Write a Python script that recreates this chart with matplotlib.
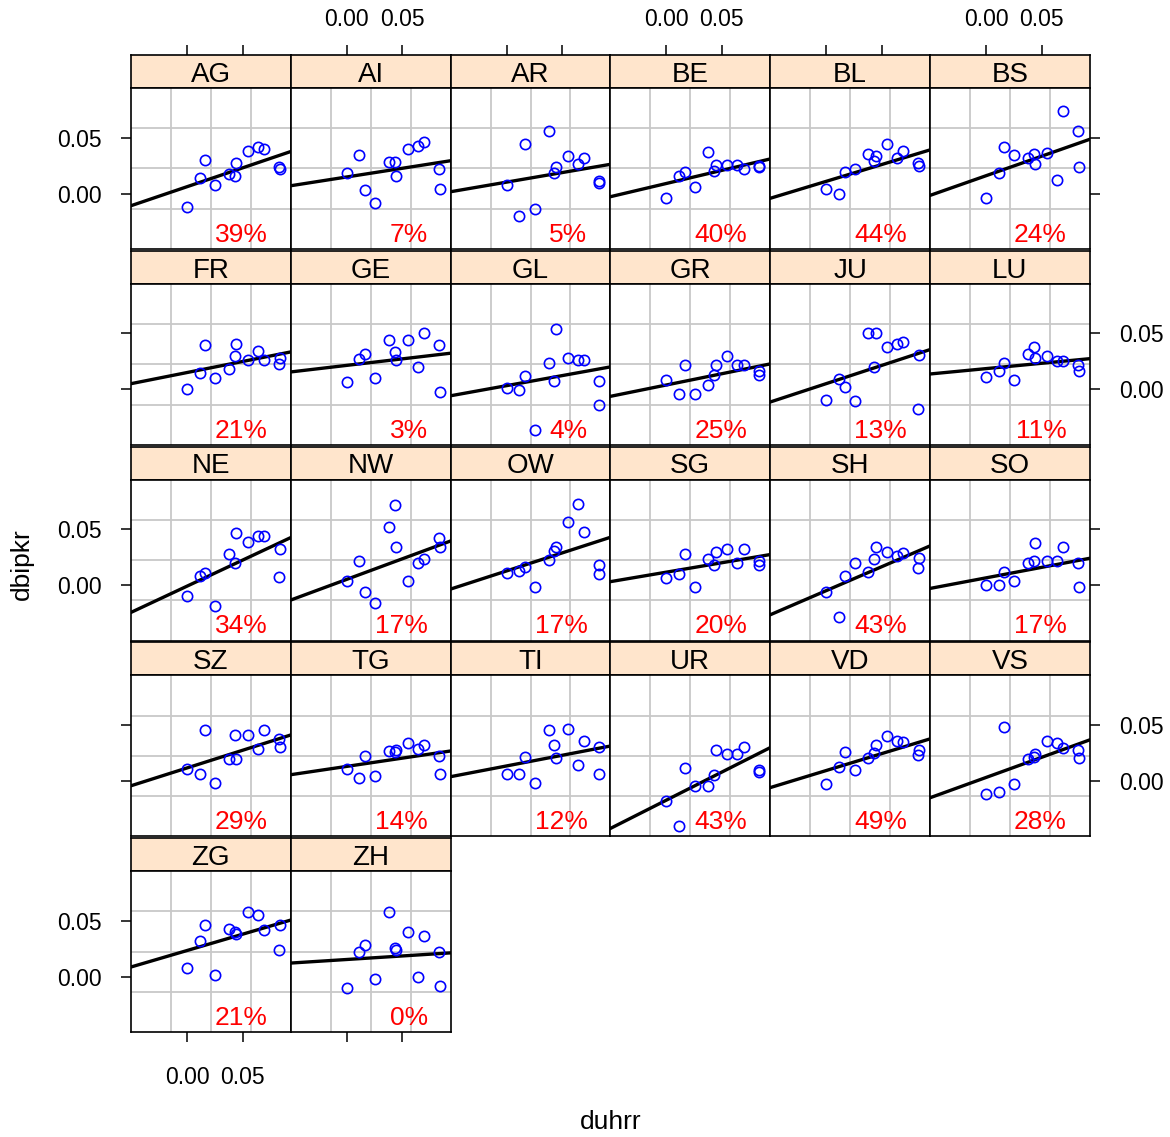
import numpy as np
import matplotlib
matplotlib.use("Agg")
import matplotlib.pyplot as plt

plt.rcParams['font.family'] = ['Liberation Sans', 'DejaVu Sans']

# shared x values (duhrr), same for every canton
duhrr = [0.000, 0.0113, 0.0165, 0.0255, 0.0378, 0.0430, 0.0445, 0.0550, 0.0640, 0.0695, 0.0830, 0.0835]

cantons = ["AG", "AI", "AR", "BE", "BL", "BS",
           "FR", "GE", "GL", "GR", "JU", "LU",
           "NE", "NW", "OW", "SG", "SH", "SO",
           "SZ", "TG", "TI", "UR", "VD", "VS",
           "ZG", "ZH"]

# dbipkr per canton, in the order of duhrr
y_AG = [-0.0118, 0.0142, 0.0300, 0.0076, 0.0174, 0.0156, 0.0270, 0.0380, 0.0413, 0.0398, 0.0240, 0.0219]
y_AI = [0.0186, 0.0347, 0.0028, -0.0088, 0.0282, 0.0282, 0.0156, 0.0398, 0.0428, 0.0460, 0.0219, 0.0043]
y_AR = [0.0073, -0.0198, 0.0446, -0.0136, 0.0559, 0.0186, 0.0240, 0.0332, 0.0267, 0.0317, 0.0112, 0.0091]
y_BE = [-0.0037, 0.0159, 0.0189, 0.0061, 0.0368, 0.0204, 0.0252, 0.0255, 0.0255, 0.0216, 0.0249, 0.0234]
y_BL = [0.0043, -0.0004, 0.0189, 0.0219, 0.0350, 0.0288, 0.0335, 0.0446, 0.0314, 0.0383, 0.0270, 0.0249]
y_BS = [-0.0037, 0.0186, 0.0413, 0.0344, 0.0314, 0.0350, 0.0267, 0.0365, 0.0124, 0.0735, 0.0556, 0.0237]
y_FR = [0.0006, 0.0146, 0.0393, 0.0104, 0.0185, 0.0295, 0.0408, 0.0262, 0.0346, 0.0262, 0.0226, 0.0280]
y_GE = [0.0069, 0.0271, 0.0313, 0.0104, 0.0441, 0.0331, 0.0262, 0.0441, 0.0200, 0.0504, 0.0393, -0.0024]
y_GL = [0.0009, -0.0009, 0.0119, -0.0361, 0.0232, 0.0072, 0.0539, 0.0280, 0.0265, 0.0265, 0.0072, -0.0137]
y_GR = [0.0086, -0.0039, 0.0218, -0.0039, 0.0042, 0.0125, 0.0218, 0.0298, 0.0221, 0.0221, 0.0161, 0.0125]
y_JU = [-0.0092, 0.0089, 0.0024, -0.0107, 0.0507, 0.0200, 0.0507, 0.0378, 0.0405, 0.0426, -0.0173, 0.0310]
y_LU = [0.0107, 0.0161, 0.0235, 0.0086, 0.0313, 0.0378, 0.0280, 0.0295, 0.0250, 0.0250, 0.0221, 0.0164]
y_NE = [-0.0094, 0.0084, 0.0105, -0.0190, 0.0278, 0.0198, 0.0469, 0.0389, 0.0439, 0.0439, 0.0070, 0.0326]
y_NW = [0.0034, 0.0212, -0.0059, -0.0157, 0.0520, 0.0713, 0.0341, 0.0040, 0.0198, 0.0230, 0.0421, 0.0341]
y_OW = [0.0111, 0.0126, 0.0165, -0.0014, 0.0227, 0.0308, 0.0344, 0.0564, 0.0725, 0.0472, 0.0183, 0.0102]
y_SG = [0.0063, 0.0099, 0.0278, -0.0014, 0.0230, 0.0183, 0.0296, 0.0326, 0.0198, 0.0326, 0.0213, 0.0177]
y_SH = [-0.0063, -0.0287, 0.0081, 0.0198, 0.0114, 0.0230, 0.0341, 0.0293, 0.0263, 0.0284, 0.0150, 0.0245]
y_SO = [0.0004, 0.0004, 0.0117, 0.0037, 0.0198, 0.0213, 0.0374, 0.0213, 0.0213, 0.0341, 0.0195, -0.0014]
y_SZ = [0.0109, 0.0065, 0.0451, -0.0019, 0.0199, 0.0413, 0.0193, 0.0413, 0.0285, 0.0451, 0.0374, 0.0302]
y_TG = [0.0109, 0.0029, 0.0223, 0.0047, 0.0269, 0.0258, 0.0275, 0.0335, 0.0285, 0.0317, 0.0220, 0.0065]
y_TI = [0.0065, 0.0065, 0.0211, -0.0019, 0.0451, 0.0317, 0.0208, 0.0467, 0.0142, 0.0356, 0.0302, 0.0065]
y_UR = [-0.0180, -0.0400, 0.0112, -0.0049, -0.0049, 0.0053, 0.0276, 0.0240, 0.0240, 0.0305, 0.0097, 0.0083]
y_VD = [-0.0031, 0.0127, 0.0258, 0.0097, 0.0202, 0.0247, 0.0324, 0.0401, 0.0356, 0.0344, 0.0234, 0.0273]
y_VS = [-0.0114, -0.0099, 0.0482, -0.0031, 0.0196, 0.0214, 0.0243, 0.0356, 0.0335, 0.0291, 0.0273, 0.0204]
y_ZG = [0.0078, 0.0320, 0.0460, 0.0015, 0.0426, 0.0400, 0.0380, 0.0580, 0.0550, 0.0420, 0.0240, 0.0460]
y_ZH = [-0.0101, 0.0220, 0.0280, -0.0020, 0.0580, 0.0257, 0.0240, 0.0400, 0.0000, 0.0360, 0.0220, -0.0080]

dbipkr = [y_AG, y_AI, y_AR, y_BE, y_BL, y_BS, y_FR, y_GE, y_GL, y_GR, y_JU, y_LU,
          y_NE, y_NW, y_OW, y_SG, y_SH, y_SO, y_SZ, y_TG, y_TI, y_UR, y_VD, y_VS,
          y_ZG, y_ZH]

# fitted line per canton (intercept at duhrr = 0, slope)
intercepts = [0.0061, 0.0148, 0.0102, 0.0090, 0.0109, 0.0159,
              0.0150, 0.0214, 0.0033, 0.0039, 0.0051, 0.0185,
              -0.0009, 0.0052, 0.0127, 0.0116, -0.0049, 0.0065,
              0.0116, 0.0130, 0.0134, -0.0171, 0.0093, 0.0031,
              0.0234, 0.0154]
slopes = [0.336, 0.155, 0.170, 0.234, 0.300, 0.348,
          0.197, 0.116, 0.179, 0.201, 0.325, 0.095,
          0.464, 0.366, 0.321, 0.168, 0.427, 0.187,
          0.315, 0.147, 0.190, 0.501, 0.302, 0.359,
          0.291, 0.063]
r2_labels = ["39%", "7%", "5%", "40%", "44%", "24%",
             "21%", "3%", "4%", "25%", "13%", "11%",
             "34%", "17%", "17%", "20%", "43%", "17%",
             "29%", "14%", "12%", "43%", "49%", "28%",
             "21%", "0%"]

tick_vals = [0.0, 0.05]
tick_text = ["0.00", "0.05"]

# layout in pixels
W, H = 1170, 1137
col_left, col_w = 131, 159.8
row_top, row_h = 55, 195.8
strip_h, panel_h = 33, 161
ncol, nrow = 6, 5
XLIM = (-0.0505, 0.0935)
YLIM = (-0.0495, 0.0942)

fig = plt.figure(figsize=(W / 100, H / 100), dpi=100)


def box(x, y, w, h):
    return [x / W, 1 - (y + h) / H, w / W, h / H]


gx = np.linspace(XLIM[0], XLIM[1], 5)[1:-1]
gy = np.linspace(YLIM[0], YLIM[1], 5)[1:-1]
tick_kw = dict(direction='out', length=7, width=1.1, labelsize=16.5, pad=14, colors='black')

n = len(cantons)
for k, name in enumerate(cantons):
    r, c = divmod(k, ncol)
    top = row_top + row_h * r
    left = col_left + col_w * c

    # strip
    sax = fig.add_axes(box(left, top, col_w, strip_h))
    sax.set_facecolor('#FFE5CC')
    sax.set_xlim(XLIM)
    sax.set_ylim(0, 1)
    sax.set_yticks([])
    sax.text(0.5, 0.40, name, transform=sax.transAxes, ha='center', va='center', fontsize=20)
    if r == 0:
        sax.set_xticks(tick_vals)
        sax.set_xticklabels(tick_text)
        sax.tick_params(axis='x', **tick_kw)
        sax.tick_params(axis='x', bottom=False, labelbottom=False, top=True,
                        labeltop=(c % 2 == 1), pad=10.5)
    else:
        sax.set_xticks([])
    for s in sax.spines.values():
        s.set_linewidth(1.2)

    # panel
    ax = fig.add_axes(box(left, top + strip_h, col_w, panel_h))
    ax.set_xlim(XLIM)
    ax.set_ylim(YLIM)
    for g in gx:
        ax.axvline(g, color='#C8C8C8', lw=1.3, zorder=0)
    for g in gy:
        ax.axhline(g, color='#C8C8C8', lw=1.3, zorder=0)
    ax.plot(duhrr, dbipkr[k], 'o', mfc='none', mec='blue', ms=7.4, mew=1.2, zorder=3)
    ax.axline((0, intercepts[k]), slope=slopes[k], color='black', lw=2.4, zorder=2)
    ax.text(0.857, 0.045, r2_labels[k], transform=ax.transAxes, ha='right', va='baseline',
            color='red', fontsize=19)

    ax.set_xticks(tick_vals)
    ax.set_xticklabels(tick_text)
    ax.set_yticks(tick_vals)
    ax.set_yticklabels(tick_text)
    ax.tick_params(axis='both', **tick_kw)
    last_row = (r == nrow - 1)
    ax.tick_params(axis='x', top=False, labeltop=False, pad=17.5,
                   bottom=last_row, labelbottom=(last_row and c % 2 == 0))
    right_side = (c == ncol - 1)
    ax.tick_params(axis='y', left=(c == 0), labelleft=(c == 0 and r % 2 == 0),
                   right=right_side, labelright=(right_side and r % 2 == 1))
    for s in ax.spines.values():
        s.set_linewidth(1.2)

fig.text(610.5 / W, 1 - 1122 / H, "duhrr", ha='center', va='center', fontsize=19)
fig.text(22 / W, 1 - 564 / H, "dbipkr", ha='center', va='center', rotation=90, fontsize=19)

fig.savefig("out.png", dpi=100)
